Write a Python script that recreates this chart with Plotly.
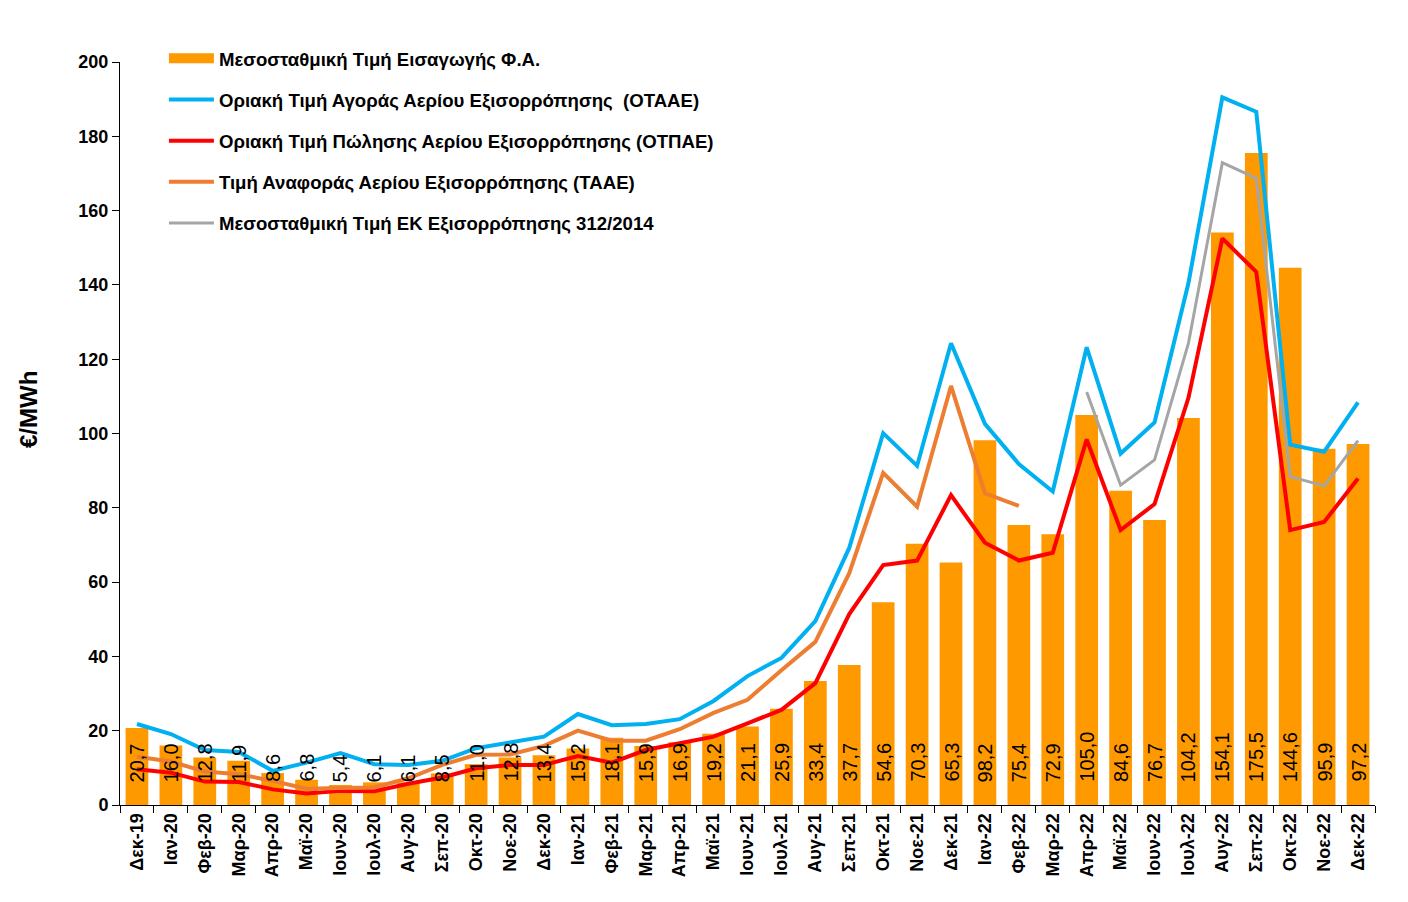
import plotly.graph_objects as go

months = ["Δεκ-19", "Ιαν-20", "Φεβ-20", "Μαρ-20", "Απρ-20", "Μαϊ-20", "Ιουν-20", "Ιουλ-20",
          "Αυγ-20", "Σεπ-20", "Οκτ-20", "Νοε-20", "Δεκ-20", "Ιαν-21", "Φεβ-21", "Μαρ-21",
          "Απρ-21", "Μαϊ-21", "Ιουν-21", "Ιουλ-21", "Αυγ-21", "Σεπ-21", "Οκτ-21", "Νοε-21",
          "Δεκ-21", "Ιαν-22", "Φεβ-22", "Μαρ-22", "Απρ-22", "Μαϊ-22", "Ιουν-22", "Ιουλ-22",
          "Αυγ-22", "Σεπ-22", "Οκτ-22", "Νοε-22", "Δεκ-22"]

import_price = [20.7, 16.0, 12.8, 11.9, 8.6, 6.8, 5.4, 6.1, 6.1, 8.5, 11.0, 12.8, 13.4,
                15.2, 18.1, 15.9, 16.9, 19.2, 21.1, 25.9, 33.4, 37.7, 54.6, 70.3, 65.3,
                98.2, 75.4, 72.9, 105.0, 84.6, 76.7, 104.2, 154.1, 175.5, 144.6, 95.9, 97.2]

otaae = [21.8, 19.1, 14.8, 14.3, 9.2, 11.4, 14.0, 11.0, 10.8, 11.9, 15.3, 16.8, 18.4,
         24.5, 21.5, 21.8, 23.1, 28.0, 34.7, 39.6, 49.5, 69.2, 100.1, 91.3, 124.3,
         102.6, 91.8, 84.4, 123.2, 94.6, 103.0, 140.5, 190.5, 186.6, 97.0, 95.1, 108.4]

otpae = [9.6, 8.7, 6.3, 6.2, 4.2, 3.1, 3.8, 3.7, 5.7, 7.4, 9.9, 10.8, 10.8,
         13.2, 11.4, 14.8, 16.6, 18.4, 22.0, 25.6, 32.8, 51.4, 64.6, 65.8, 83.4,
         70.6, 65.8, 67.9, 98.4, 74.0, 81.0, 109.6, 152.5, 143.5, 74.0, 76.2, 87.9]

taae = [13.0, 11.7, 9.0, 8.3, 6.5, 4.4, 4.6, 4.7, 7.2, 10.8, 13.5, 13.6, 15.9,
        20.0, 17.3, 17.3, 20.4, 24.8, 28.3, 36.3, 43.9, 62.4, 89.4, 80.3, 112.8,
        83.9, 80.5, None, None, None, None, None, None, None, None, None, None]

ek_312 = [None] * 28 + [111.2, 86.1, 92.9, 124.3, 172.9, 168.7, 88.4, 85.9, 98.1]

names = ["Μεσοσταθμική Τιμή Εισαγωγής Φ.Α.",
         "Οριακή Τιμή Αγοράς Αερίου Εξισορρόπησης  (ΟΤΑΑΕ)",
         "Οριακή Τιμή Πώλησης Αερίου Εξισορρόπησης (ΟΤΠΑΕ)",
         "Τιμή Αναφοράς Αερίου Εξισορρόπησης (ΤΑΑΕ)",
         "Μεσοσταθμική Τιμή ΕΚ Εξισορρόπησης 312/2014"]

FONT = "Arial, 'Liberation Sans', sans-serif"
BAR_COLOR = "#FF9900"

fig = go.Figure()
fig.add_trace(go.Bar(x=months, y=import_price, name=names[0], marker_color=BAR_COLOR,
                     marker_line_width=0, showlegend=False))
# legend entry for the bars drawn as a wide rectangle (as in the original)
fig.add_trace(go.Scatter(x=[None], y=[None], name=names[0], mode="lines",
                         line=dict(color=BAR_COLOR, width=12), legendgroup="a"))
fig.add_trace(go.Scatter(x=months, y=otaae, name=names[1], mode="lines",
                         line=dict(color="#00B0F0", width=4), legendgroup="b"))
fig.add_trace(go.Scatter(x=months, y=otpae, name=names[2], mode="lines",
                         line=dict(color="#FF0000", width=4), legendgroup="c"))
fig.add_trace(go.Scatter(x=months, y=taae, name=names[3], mode="lines",
                         line=dict(color="#ED7D31", width=4), legendgroup="d"))
fig.add_trace(go.Scatter(x=months, y=ek_312, name=names[4], mode="lines",
                         line=dict(color="#A5A5A5", width=3), legendgroup="e"))

for m, v in zip(months, import_price):
    fig.add_annotation(x=m, y=0, xref="x", yref="y", text=f"{v:.1f}".replace(".", ","),
                       textangle=-90, showarrow=False, yanchor="bottom", xanchor="center",
                       yshift=21, font=dict(family=FONT, size=20, color="black"))

fig.add_annotation(x=0, y=(805 - 410) / 743, xref="paper", yref="paper", text="€/MWh",
                   textangle=-90, showarrow=False, xanchor="center", yanchor="middle",
                   xshift=-92, font=dict(family=FONT, size=24, color="black", weight="bold"))

fig.update_layout(
    width=1408, height=902,
    margin=dict(l=120, r=33, t=62, b=97),
    paper_bgcolor="white", plot_bgcolor="white",
    font=dict(family=FONT, color="black"),
    bargap=0.33,
    showlegend=True,
    legend=dict(x=0.035, y=1.03, xanchor="left", yanchor="top",
                font=dict(family=FONT, size=18.6, color="black", weight="bold"),
                tracegroupgap=14, traceorder="grouped", bgcolor="rgba(0,0,0,0)",
                itemwidth=45),
)
fig.update_xaxes(type="category", showline=True, linecolor="black", linewidth=1,
                 ticks="outside", tickson="boundaries", ticklen=7, tickcolor="black",
                 tickangle=-90, tickfont=dict(family=FONT, size=18, weight="bold"),
                 showgrid=False, zeroline=False)
fig.update_yaxes(range=[0, 200], dtick=20, showline=True, linecolor="black", linewidth=1,
                 ticks="outside", ticklen=7, tickcolor="black",
                 tickfont=dict(family=FONT, size=18, weight="bold"),
                 showgrid=False, zeroline=False)

fig.write_html("out.html")
